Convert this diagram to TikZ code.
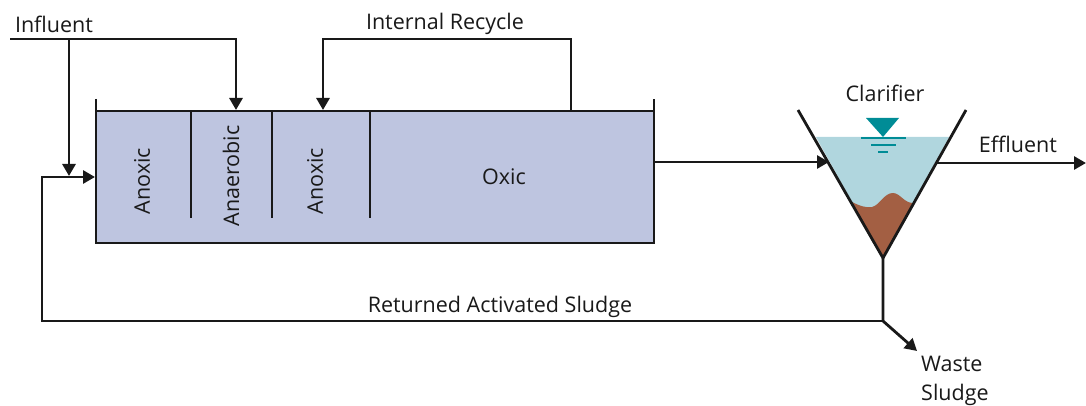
\documentclass[tikz,border=0pt]{standalone}
\usepackage{fontspec}
\setmainfont{Open Sans}
\usetikzlibrary{arrows.meta}
\definecolor{tankfill}{RGB}{190,197,224}
\definecolor{waterfill}{RGB}{176,214,222}
\definecolor{sludgefill}{RGB}{163,95,67}
\definecolor{levelcol}{RGB}{0,140,150}
\definecolor{inkcol}{RGB}{25,25,25}
\tikzset{
  pipe/.style={line width=2.8pt, draw=inkcol},
  flow/.style={pipe, -{Triangle[length=12pt,width=13pt]}},
  lbl/.style={inner sep=0pt, text=inkcol, font=\fontsize{21.5}{29}\selectfont},
  level/.style={line width=2.6pt, draw=levelcol},
}
\begin{document}
\begin{tikzpicture}[x=1pt,y=-1pt]
    \useasboundingbox (0,0) rectangle (1086,406);
    % tank
    \coordinate (tankTL) at (96,111);
    \coordinate (tankTR) at (654,111);
    \coordinate (tankBL) at (96,243);
    \coordinate (tankBR) at (654,243);
    \fill[tankfill] (tankTL) rectangle (tankBR);
    \draw[pipe] (96,99) -- (tankBL) -- (tankBR) -- (654,99);
    \draw[pipe] (tankTL) -- (tankTR);
    \foreach \i in {191,272,370}{
        \draw[pipe] (\i,111) -- (\i,218);
    }
    \node[lbl, rotate=90] (anoxicA) at (142,181) {Anoxic};
    \node[lbl, rotate=90] (anaerobic) at (231,176) {Anaerobic};
    \node[lbl, rotate=90] (anoxicB) at (315,181) {Anoxic};
    \node[lbl] (oxic) at (504,177) {Oxic};
    % clarifier
    \coordinate (clarL) at (798,110);
    \coordinate (clarR) at (966,110);
    \coordinate (clarB) at (883,258);
    \fill[waterfill] (816,137) -- (949,137) -- (clarB) -- cycle;
    \fill[sludgefill] (852,202) .. controls (860,206) and (866,208) .. (872,207)
        .. controls (880,205) and (884,193) .. (893,193)
        .. controls (900,193) and (904,203) .. (913,203) -- (clarB) -- cycle;
    \draw[pipe] (clarL) -- (clarB) -- (clarR);
    \fill[levelcol] (866,118) -- (899,118) -- (883,137) -- cycle;
    \draw[level] (861,138) -- (906,138);
    \draw[level] (871,145) -- (896,145);
    \draw[level] (878,152) -- (888,152);
    \node[lbl] (clarifier) at (885,93) {Clarifier};
    % influent
    \coordinate (infStart) at (10,39);
    \coordinate (infTee) at (69,39);
    \coordinate (infCorner) at (236,39);
    \coordinate (infEnd) at (236,110);
    \coordinate (rasMerge) at (69,176);
    \draw[flow] (infStart) -- (infCorner) -- (infEnd);
    \draw[flow] (infTee) -- (rasMerge);
    \node[lbl] (influent) at (54,24) {Influent};
    % internal recycle
    \coordinate (recStart) at (571,111);
    \coordinate (recEnd) at (323,110);
    \draw[flow] (recStart) -- (571,39) -- (323,39) -- (recEnd);
    \node[lbl] (recycle) at (445,24) {Internal Recycle};
    % returned sludge
    \coordinate (rasTee) at (883,321);
    \coordinate (rasEnd) at (95,177);
    \draw[flow] (rasTee) -- (42,321) -- (42,177) -- (rasEnd);
    \node[lbl] (ras) at (500,307) {Returned Activated Sludge};
    % tank to clarifier, effluent, waste
    \coordinate (tankOut) at (654,162);
    \coordinate (clarIn) at (829,162);
    \coordinate (effStart) at (937,163);
    \coordinate (effEnd) at (1086,163);
    \coordinate (wasteEnd) at (917,351);
    \draw[flow] (tankOut) -- (clarIn);
    \draw[flow] (effStart) -- (effEnd);
    \draw[flow] (clarB) -- (rasTee) -- (wasteEnd);
    \node[lbl] (effluent) at (1018,144) {Effluent};
    \node[lbl, align=left, anchor=west] (waste) at (921,381) {Waste\\Sludge};
\end{tikzpicture}
\end{document}
